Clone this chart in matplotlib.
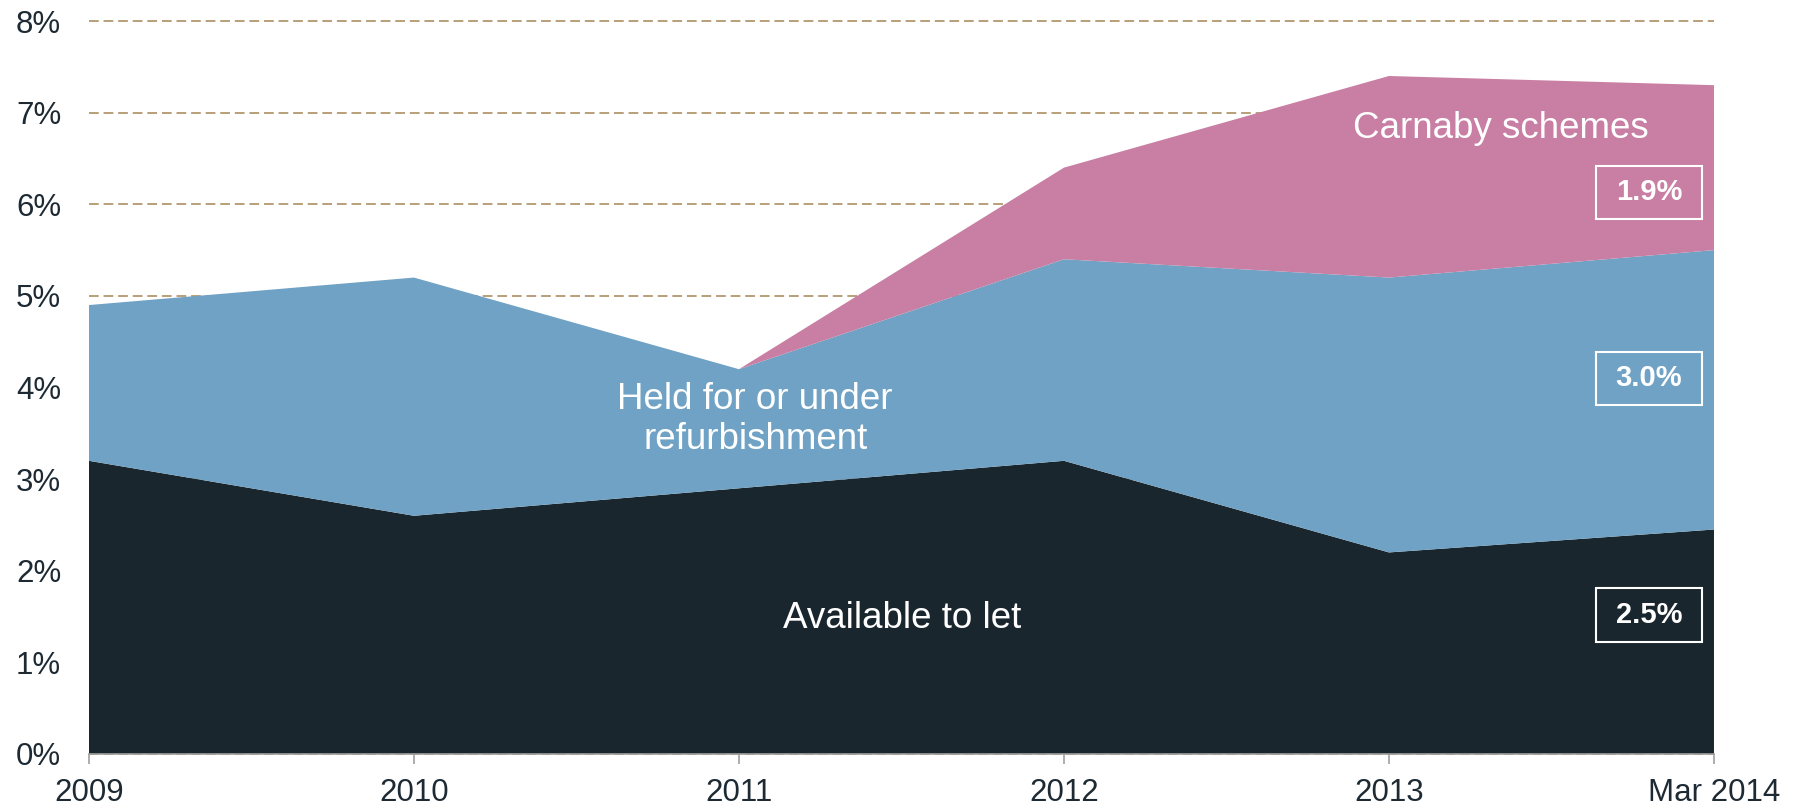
import matplotlib.pyplot as plt
from matplotlib.path import Path

periods = ["2009", "2010", "2011", "2012", "2013", "Mar 2014"]
available = [3.2, 2.6, 2.9, 3.2, 2.2, 2.45]
held = [1.7, 2.6, 1.3, 2.2, 3.0, 3.05]
carnaby = [0.0, 0.0, 0.0, 1.0, 2.2, 1.8]
latest_labels = ["2.5%", "3.0%", "1.9%"]

dark = "#1a262e"
blue = "#6fa2c4"
pink = "#c97ea3"
grid_col = "#b89f78"
text_col = "#1d2a33"

plt.rcParams["font.family"] = ["Liberation Sans", "DejaVu Sans"]


def wide_box(x0, y0, width, height, mutation_size):
    # rectangle with more padding left/right than top/bottom
    px = 0.68 * mutation_size
    py = 0.44 * mutation_size
    x0, x1 = x0 - px, x0 + width + px
    y0, y1 = y0 - py, y0 + height + py
    return Path([(x0, y0), (x1, y0), (x1, y1), (x0, y1), (x0, y0)], closed=True)


fig = plt.figure(figsize=(18.04, 8.09), dpi=100)
ax = fig.add_axes([0.0493, 0.068, 0.9008, 0.906])

x = list(range(len(periods)))
ax.stackplot(x, available, held, carnaby, colors=[dark, blue, pink], linewidth=0, zorder=2)

ax.set_xlim(0, len(periods) - 1)
ax.set_ylim(0, 8)
ax.set_yticks(range(0, 9))
ax.set_yticklabels([f"{i}%" for i in range(0, 9)])
ax.set_xticks(x)
ax.set_xticklabels(periods)

ax.yaxis.grid(True, color=grid_col, linestyle=(0, (5, 2.5)), linewidth=1.4, zorder=0)
ax.set_axisbelow(True)
for gl in ax.get_ygridlines():
    gl.set_clip_on(False)

for side in ["left", "right", "top"]:
    ax.spines[side].set_visible(False)
ax.spines["bottom"].set_color("#a0a0a0")
ax.spines["bottom"].set_linewidth(1.2)
ax.spines["bottom"].set_zorder(3)

ax.tick_params(axis="y", length=0, pad=20, labelsize=22.5, labelcolor=text_col)
ax.tick_params(axis="x", length=7, width=1.2, color="#a0a0a0", pad=10,
               labelsize=22.5, labelcolor=text_col)

ax.text(2.503, 1.375, "Available to let", color="white", fontsize=26.5,
        ha="center", va="baseline", zorder=4)
ax.text(2.05, 4.06, "Held for or under\nrefurbishment", color="white", fontsize=26.5,
        ha="center", va="top", linespacing=1.2, zorder=4)
ax.text(4.345, 6.72, "Carnaby schemes", color="white", fontsize=26.5,
        ha="center", va="baseline", zorder=4)

box_y = [1.52, 4.10, 6.13]
for label, yy, fc in zip(latest_labels, box_y, [dark, blue, pink]):
    ax.text(4.80, yy, label, color="white", fontsize=21, fontweight="bold",
            ha="center", va="center", zorder=4,
            bbox=dict(boxstyle=wide_box, facecolor=fc, edgecolor="white", linewidth=1.5))

fig.savefig("out.png", dpi=100)
